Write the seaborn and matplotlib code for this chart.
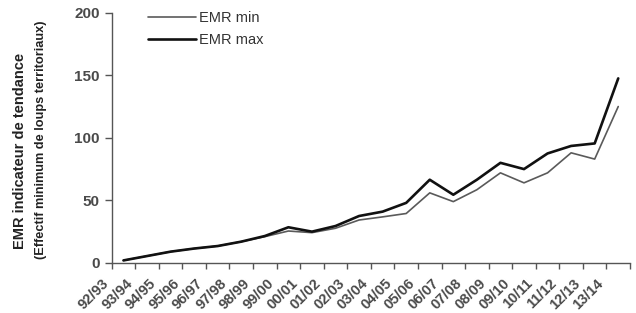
import numpy as np
import pandas as pd
import matplotlib
matplotlib.use("Agg")
import matplotlib.pyplot as plt
import matplotlib.transforms as mtransforms
import seaborn as sns

# saisons (libellés de l'axe)
saisons = ["92/93", "93/94", "94/95", "95/96", "96/97", "97/98", "98/99",
           "99/00", "00/01", "01/02", "02/03", "03/04", "04/05", "05/06",
           "06/07", "07/08", "08/09", "09/10", "10/11", "11/12", "12/13",
           "13/14"]

# valeurs
emr_min = [2, 5.5, 9, 11.5, 13.5, 17, 21, 25.5, 24.2, 27.7, 34.3, 36.8,
           39.5, 56, 49, 58.5, 72, 64, 72, 88, 83, 125]
emr_max = [2, 5.5, 9, 11.5, 13.5, 17, 21.5, 28.5, 25, 29.5, 37.5, 41,
           48, 66.5, 54.5, 66.5, 80, 75, 87.5, 93.5, 95.5, 147.5]

# points au milieu des intervalles (style Excel)
pos = np.arange(len(saisons)) + 0.5
df = pd.DataFrame({"pos": pos, "EMR min": emr_min, "EMR max": emr_max})

sns.set_style("ticks")
plt.rcParams["font.family"] = ["Liberation Sans", "DejaVu Sans"]

fig = plt.figure(figsize=(6.36, 3.13), dpi=100)
ax = fig.add_axes([0.1756, 0.16, 0.815, 0.7994])

sns.lineplot(data=df, x="pos", y="EMR min", ax=ax, color="#5a5a5a",
             linewidth=1.2, label="EMR min")
sns.lineplot(data=df, x="pos", y="EMR max", ax=ax, color="#111111",
             linewidth=1.9, label="EMR max")

ax.set_xlim(0, len(saisons))
ax.set_ylim(0, 200)
ax.set_yticks([0, 50, 100, 150, 200])
ax.set_xticks(np.arange(len(saisons) + 1))
ax.set_xticklabels(saisons + [""])
ax.set_xlabel("")
ax.set_ylabel("")

sns.despine(ax=ax)
for s in ["left", "bottom"]:
    ax.spines[s].set_color("#555555")
    ax.spines[s].set_linewidth(1.0)

ax.tick_params(axis="y", colors="#555555", labelsize=11, length=5, width=1)
ax.tick_params(axis="x", colors="#555555", labelsize=10.5, length=4, width=1)
for t in ax.get_yticklabels():
    t.set_fontweight("bold")
    t.set_color("#4a4a4a")

offset = mtransforms.ScaledTranslation(-5 / 100, -8 / 100, fig.dpi_scale_trans)
for t in ax.get_xticklabels():
    t.set_rotation(45)
    t.set_ha("right")
    t.set_va("center")
    t.set_rotation_mode("anchor")
    t.set_fontweight("bold")
    t.set_color("#4a4a4a")
    t.set_transform(t.get_transform() + offset)

leg = ax.legend(loc="upper left", bbox_to_anchor=(0.045, 1.06), frameon=False,
                handlelength=3.3, handletextpad=0.2, labelspacing=0.55,
                fontsize=10.5)
for txt in leg.get_texts():
    txt.set_color("#333333")

fig.text(20 / 636, 1 - 151 / 313, "EMR indicateur de tendance", rotation=90,
         ha="center", va="center", fontsize=10.5, fontweight="bold", color="#222222")
fig.text(41 / 636, 1 - 140 / 313, "(Effectif minimum de loups territoriaux)",
         rotation=90, ha="center", va="center", fontsize=9.2, fontweight="bold",
         color="#222222")

fig.savefig("out.png", dpi=100)
